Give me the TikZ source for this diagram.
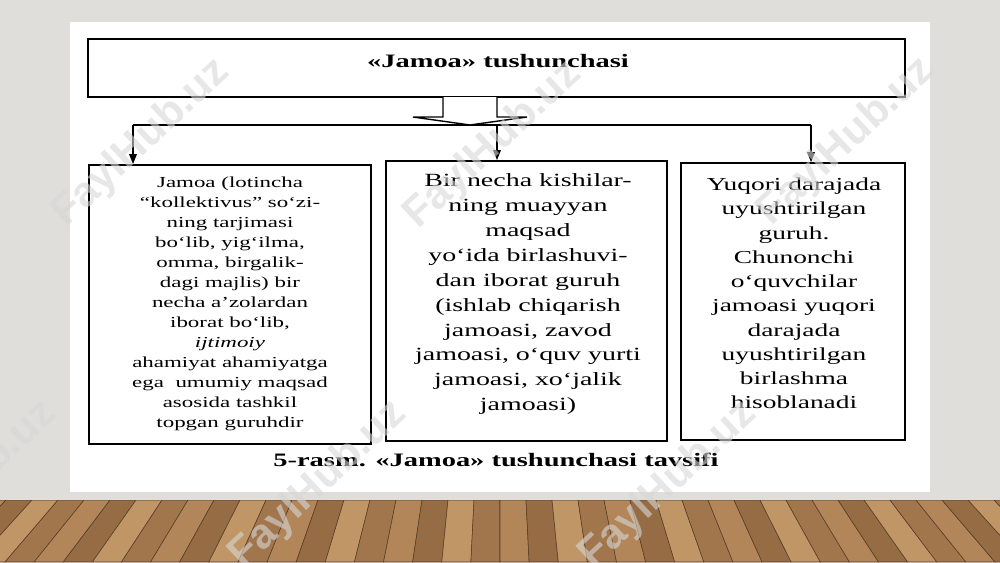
\documentclass[tikz,border=0pt]{standalone}
\usepackage{fontspec}
\setmainfont{Liberation Serif}[FakeStretch=1.5]
\newfontfamily\markfont{Liberation Sans}
\usetikzlibrary{arrows.meta,positioning}
\definecolor{wall}{RGB}{224,222,218}
\definecolor{wood0}{RGB}{178,134,88}
\definecolor{wood1}{RGB}{162,118,76}
\definecolor{wood2}{RGB}{192,150,102}
\definecolor{wood3}{RGB}{150,108,68}
\definecolor{mark}{RGB}{215,215,215}

\begin{document}
\begin{tikzpicture}[x=0.2mm, y=-0.2mm,
    box/.style={draw, line width=0.9pt, inner sep=0pt},
    txt/.style={align=center, inner sep=0pt, anchor=north},
    arr/.style={line width=0.8pt, -{Triangle[length=2mm, width=1.5mm]}},
    wm/.style={font=\markfont\bfseries\fontsize{24}{24}\selectfont, text=mark, opacity=0.6, rotate=43}
  ]
  \def\pw{26}
  \def\persp{1.12}
  \useasboundingbox (0,0) rectangle (1000,562);

  % Wall and slide
  \fill[wall] (0,0) rectangle (1000,562);
  \fill[white] (70,22) rectangle (930,492);

  % Floor
  \begin{scope}
    \clip (0,500) rectangle (1000,562);
    \foreach \i in {-21,...,20} {
      \pgfmathtruncatemacro\c{mod(\i*7+200,4)}
      \fill[wood\c, draw=wood3!55!black, line width=0.3pt]
        (500+\i*\pw,500) -- (500+\i*\pw+\pw,500)
        -- (500+\i*\pw*\persp+\pw*\persp,562) -- (500+\i*\pw*\persp,562) -- cycle;
    }
  \end{scope}

  % Heading
  \node[box, minimum width=163.4mm, minimum height=11.6mm] (top) at (496.5,68) {};
  \node[anchor=base, font=\bfseries\fontsize{10.8}{13}\selectfont] (toptxt) at (498,67) {«Jamoa» tushunchasi};

  % Three boxes
  \node[box, minimum width=56.4mm, minimum height=55.8mm] (left) at (230,304.5) {};
  \node[box, minimum width=56.2mm, minimum height=56mm] (mid) at (526.5,301) {};
  \node[box, minimum width=44.8mm, minimum height=55.4mm] (right) at (793,301.5) {};

  \node[txt, font=\fontsize{8.7}{11.4}\selectfont] (lefttxt) at (230,176.5) {Jamoa (lotincha\\
    “kollektivus” so‘zi-\\ ning tarjimasi\\ bo‘lib, yig‘ilma,\\ omma, birgalik-\\
    dagi majlis) bir\\ necha a’zolardan\\ iborat bo‘lib,\\ \textit{ijtimoiy}\\
    ahamiyat ahamiyatga\\ ega\ \ umumiy maqsad\\ asosida tashkil\\ topgan guruhdir};
  \node[txt, font=\fontsize{10.6}{14.2}\selectfont] (midtxt) at (528,173) {Bir necha kishilar-\\
    ning muayyan\\ maqsad\\ yo‘ida birlashuvi-\\ dan iborat guruh\\ (ishlab chiqarish\\
    jamoasi, zavod\\ jamoasi, o‘quv yurti\\ jamoasi, xo‘jalik\\ jamoasi)};
  \node[txt, font=\fontsize{10.4}{13.8}\selectfont] (righttxt) at (794,177.5) {Yuqori darajada\\
    uyushtirilgan\\ guruh.\\ Chunonchi\\ o‘quvchilar\\ jamoasi yuqori\\ darajada\\
    uyushtirilgan\\ birlashma\\ hisoblanadi};

  % Hollow arrow and branches
  \coordinate (bus) at (470,125);
  \coordinate (jl) at (133,125);
  \coordinate (jm) at (497,125);
  \coordinate (jr) at (811,125);
  \draw[line width=0.8pt] (jl) -- (jr);
  \draw[line width=0.8pt, fill=white] (bus) ++(-27,-28) -- ++(0,20) -- ++(-30,0) -- (bus)
    -- ++(57,-8) -- ++(-30,0) -- ++(0,-20);
  \draw[arr] (jl) -- (jl |- left.north);
  \draw[arr] (jm) -- (jm |- mid.north);
  \draw[arr] (jr) -- (jr |- right.north);

  % Caption
  \node[anchor=base, font=\bfseries\fontsize{10.8}{13}\selectfont] (caption) at (496,466) {5-rasm. «Jamoa» tushunchasi tavsifi};

  % Watermarks
  \foreach \x/\y [count=\k] in {141/143, 493/145, 846/142, -32/485, 318/485, 668/485}
    \node[wm] (wm\k) at (\x,\y) {FaylHub.uz};
\end{tikzpicture}
\end{document}
